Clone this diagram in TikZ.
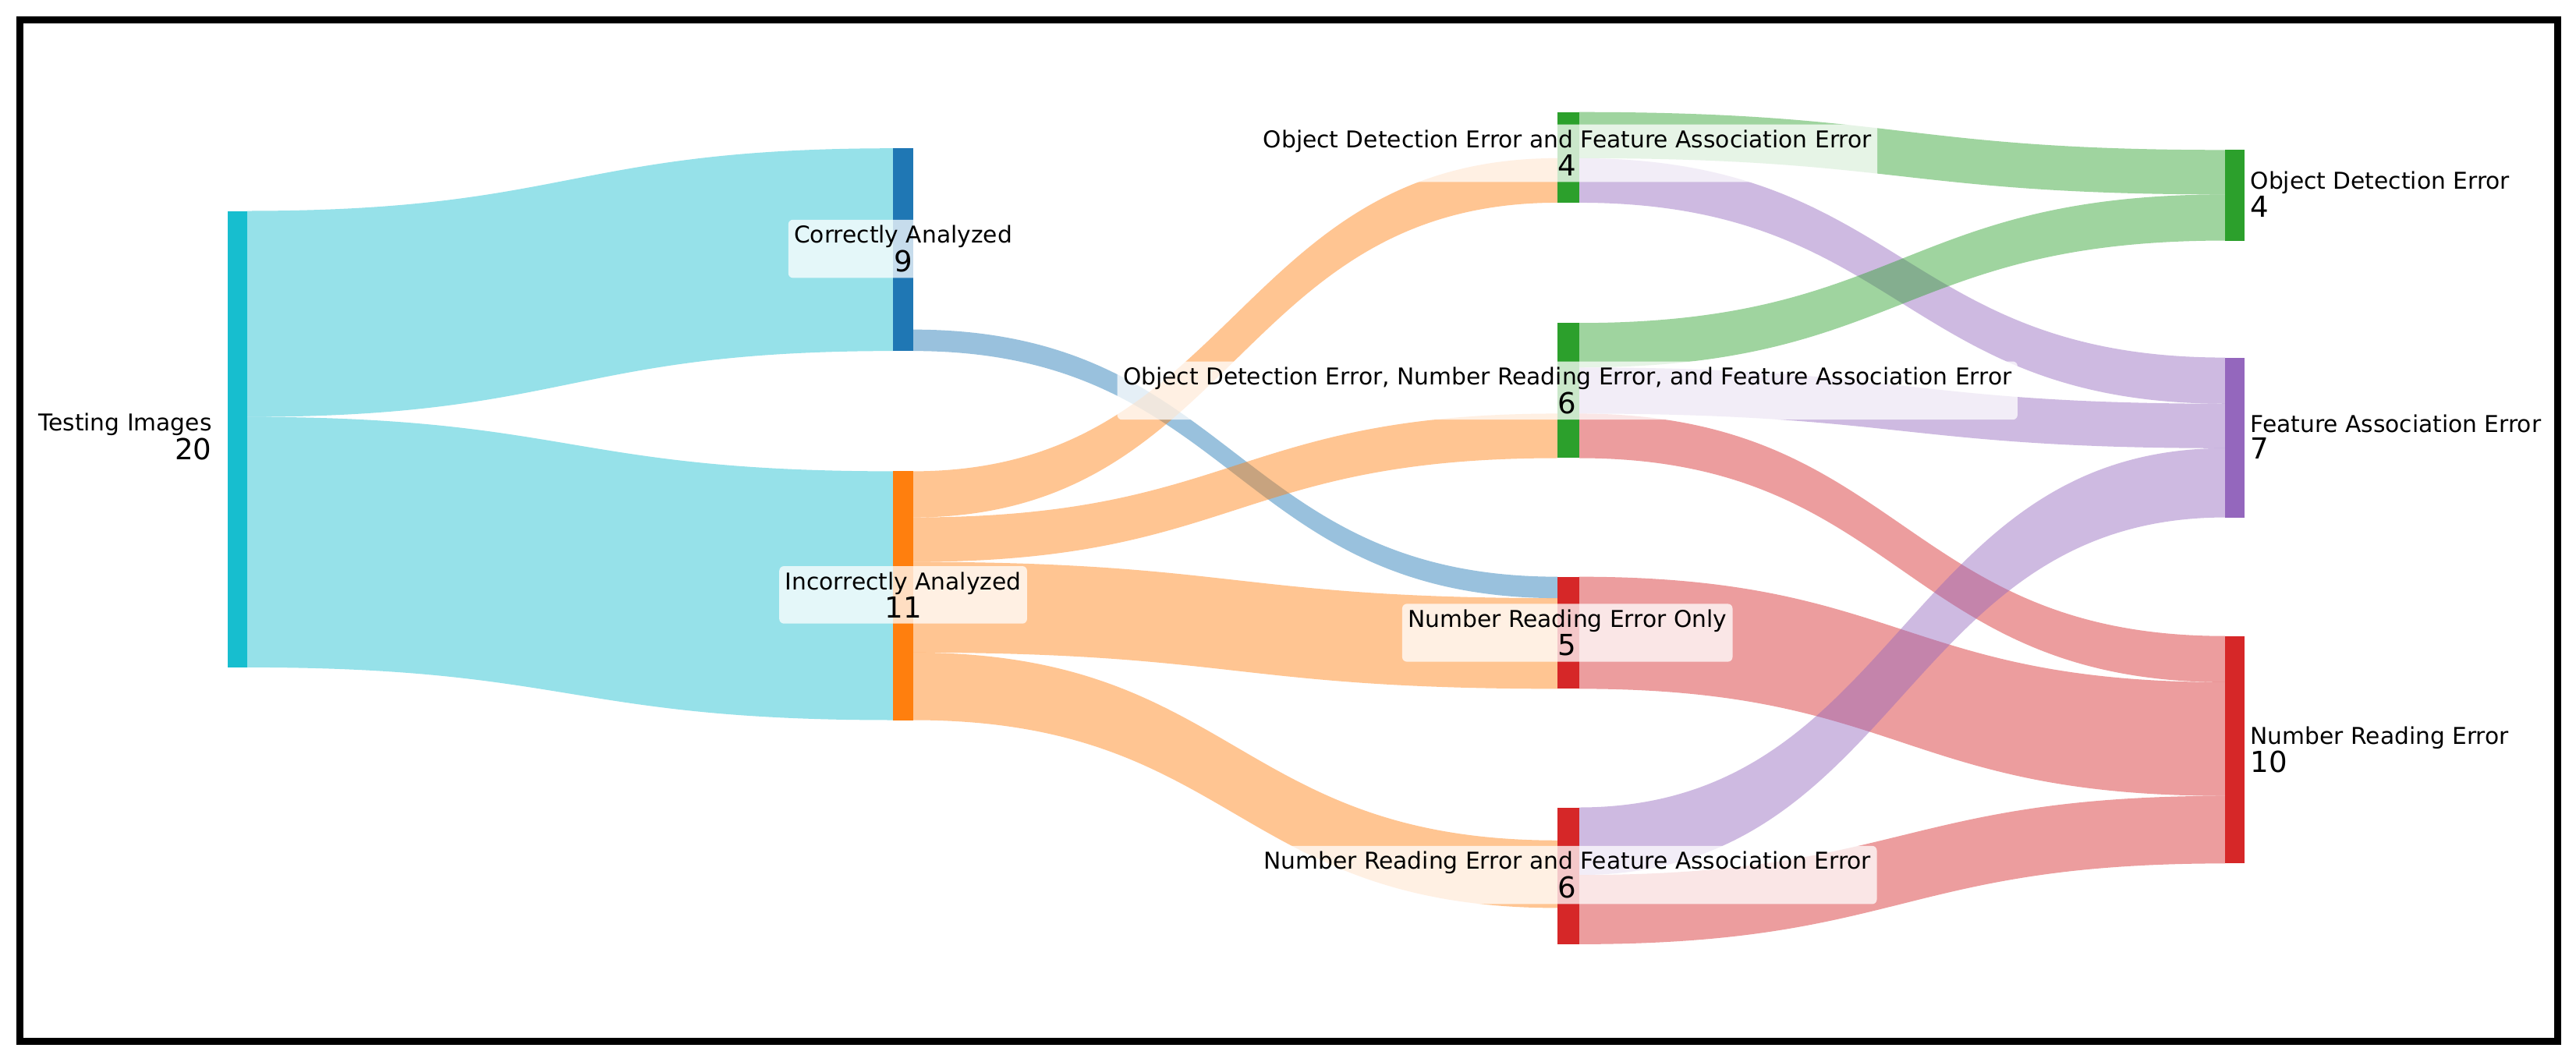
\documentclass[tikz,border=0pt]{standalone}
\usepackage{fontspec}
\setmainfont{DejaVu Sans}
\definecolor{cT}{HTML}{17BECF}
\definecolor{cB}{HTML}{1F77B4}
\definecolor{cO}{HTML}{FF7F0E}
\definecolor{cG}{HTML}{2CA02C}
\definecolor{cR}{HTML}{D62728}
\definecolor{cP}{HTML}{9467BD}
\newcommand\skband[7]{%
  \pgfmathsetmacro\xm{(#1+#4)/2}%
  \fill[#7,opacity=0.45] (#1,#2) .. controls (\xm,#2) and (\xm,#5) .. (#4,#5) -- (#4,#6) .. controls (\xm,#6) and (\xm,#3) .. (#1,#3) -- cycle;}
\newcommand\skbar[5]{\fill[#5] (#1,#2) rectangle (#3,#4);}
\newcommand\sknum[1]{{\fontsize{25}{27}\selectfont #1}}
\begin{document}
\begin{tikzpicture}[x=0.05cm,y=-0.05cm,
  lbl/.style={fill=white,fill opacity=0.75,text opacity=1,rounded corners=4pt,align=center,inner sep=5pt,font=\fontsize{20}{22}\selectfont},
  lblr/.style={anchor=west,align=left,font=\fontsize{20}{22}\selectfont},
  lbll/.style={anchor=east,align=right,font=\fontsize{20}{22}\selectfont}]
\useasboundingbox (0,0) rectangle (1563,640);
\fill[white] (0,0) rectangle (1563,640);
% bands
\skband{150}{128}{253}{542}{90}{213}{cT}
\skband{150}{253}{405}{542}{286}{437}{cT}
\skband{554}{200}{213}{945}{350}{363}{cB}
\skband{554}{286}{314}{945}{96}{123}{cO}
\skband{554}{314}{341}{945}{251}{278}{cO}
\skband{554}{341}{396}{945}{363}{418}{cO}
\skband{554}{396}{437}{945}{510}{551}{cO}
\skband{958}{68}{96}{1350}{91}{118}{cG}
\skband{958}{96}{123}{1350}{217}{245}{cP}
\skband{958}{196}{223}{1350}{118}{146}{cG}
\skband{958}{223}{251}{1350}{245}{272}{cP}
\skband{958}{251}{278}{1350}{386}{414}{cR}
\skband{958}{350}{418}{1350}{414}{483}{cR}
\skband{958}{490}{531}{1350}{272}{314}{cP}
\skband{958}{531}{573}{1350}{483}{524}{cR}
% bars
\skbar{138}{128}{150}{405}{cT}
\skbar{542}{90}{554}{213}{cB}
\skbar{542}{286}{554}{437}{cO}
\skbar{945}{68}{958}{123}{cG}
\skbar{945}{196}{958}{278}{cG}
\skbar{945}{350}{958}{418}{cR}
\skbar{945}{490}{958}{573}{cR}
\skbar{1350}{91}{1362}{146}{cG}
\skbar{1350}{217}{1362}{314}{cP}
\skbar{1350}{386}{1362}{524}{cR}
% labels
\node[lbll] (ti) at (131,265) {Testing Images\\[1pt]\sknum{20}};
\node[lbl] (ca) at (548,151) {Correctly Analyzed\\[1pt]\sknum{9}};
\node[lbl] (ia) at (548,361) {Incorrectly Analyzed\\[1pt]\sknum{11}};
\node[lbl] (m1) at (951,93) {Object Detection Error and Feature Association Error\\[1pt]\sknum{4}};
\node[lbl] (m2) at (951,237) {Object Detection Error, Number Reading Error, and Feature Association Error\\[1pt]\sknum{6}};
\node[lbl] (m3) at (951,384) {Number Reading Error Only\\[1pt]\sknum{5}};
\node[lbl] (m4) at (951,531) {Number Reading Error and Feature Association Error\\[1pt]\sknum{6}};
\node[lblr] (r1) at (1363,118) {Object Detection Error\\[1pt]\sknum{4}};
\node[lblr] (r2) at (1363,265) {Feature Association Error\\[1pt]\sknum{7}};
\node[lblr] (r3) at (1363,455) {Number Reading Error\\[1pt]\sknum{10}};
\draw[line width=0.22cm] (12,12) rectangle (1552,632);
\end{tikzpicture}
\end{document}
